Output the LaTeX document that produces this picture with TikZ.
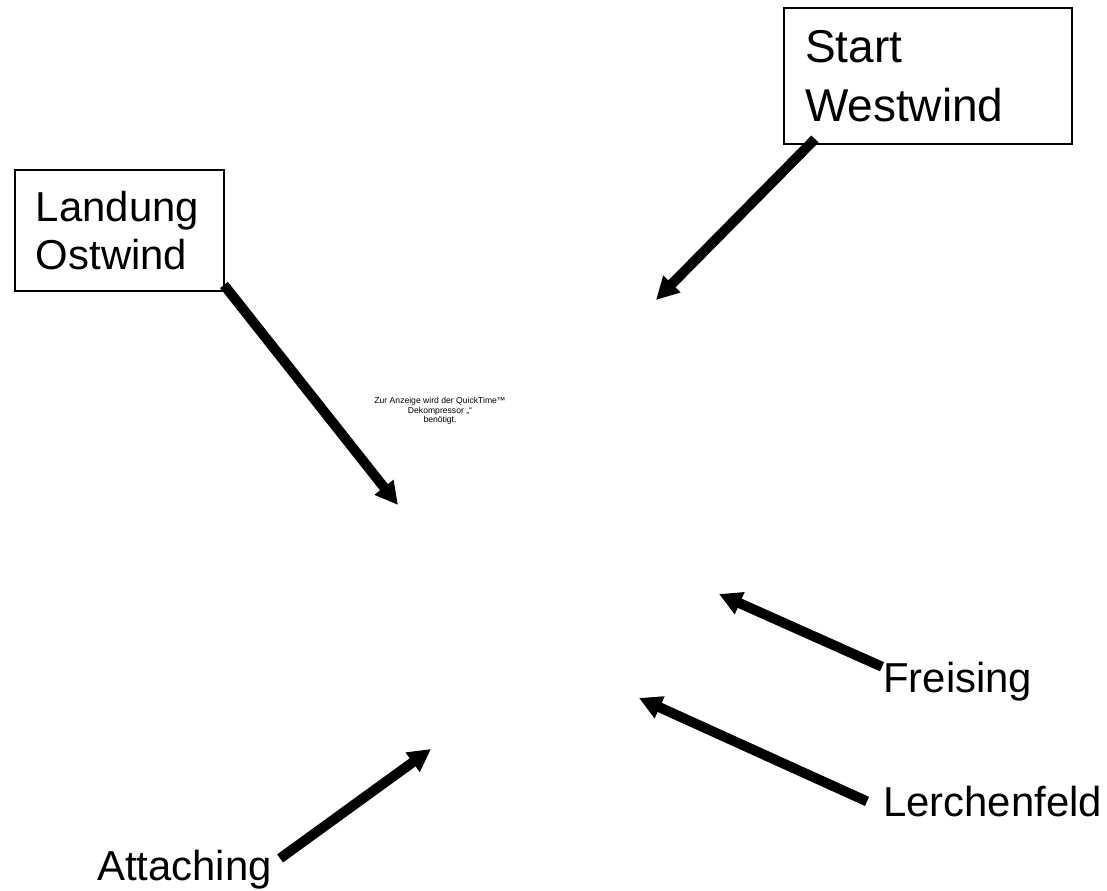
\documentclass[tikz,border=0pt]{standalone}
\usepackage{fontspec}
\setmainfont{Liberation Sans}
\usetikzlibrary{arrows.meta}
\begin{document}
\begin{tikzpicture}[x=0.75pt, y=-0.75pt,
  place/.style={draw=black, line width=1.5pt, rectangle, inner ysep=0pt, inner xsep=15.75pt, align=left, anchor=north west},
  label/.style={inner sep=0pt, font=\fontsize{31.4}{36}\selectfont},
  pointer/.style={line width=7.5pt, -{Triangle[length=17pt, width=17pt]}},
  note/.style={inner sep=0pt, align=center, font=\fontsize{6.45}{5.6}\selectfont}]
  \useasboundingbox (0,0) rectangle (1107,890);

  % boxed place names
  \node[place, text width=184.5pt, minimum height=102pt,
        font=\fontsize{34.5}{44}\selectfont] (start) at (783,7) {Start\\Westwind};
  \node[place, text width=125.25pt, minimum height=90.75pt,
        font=\fontsize{31.4}{36}\selectfont] (landung) at (14,169) {Landung\\Ostwind};

  % plain place names
  \node[label, anchor=base west] (freising) at (883,692) {Freising};
  \node[label, anchor=base west] (lerchenfeld) at (883,816) {Lerchenfeld};
  \node[label, anchor=base west] (attaching) at (97,880) {Attaching};

  % placeholder text of the missing picture
  \node[note] (qt) at (440,411) {Zur Anzeige wird der QuickTime™\\Dekompressor „“\\benötigt.};

  % arrow targets
  \coordinate (tipS) at (656,300);
  \coordinate (tipL) at (398,505);
  \coordinate (tipF) at (719,594);
  \coordinate (tipLe) at (639,698);
  \coordinate (tipA) at (431,749);

  % arrows
  \draw[pointer] ([shift={(24pt,4.5pt)}]start.south west) -- (tipS);
  \draw[pointer] ([shift={(-0.75pt,5.25pt)}]landung.south east) -- (tipL);
  \draw[pointer] ([shift={(-0.75pt,-4pt)}]freising.north west) -- (tipF);
  \draw[pointer] ([shift={(-12pt,-12pt)}]lerchenfeld.north west) -- (tipLe);
  \draw[pointer] ([shift={(6pt,-6.75pt)}]attaching.north east) -- (tipA);
\end{tikzpicture}
\end{document}
